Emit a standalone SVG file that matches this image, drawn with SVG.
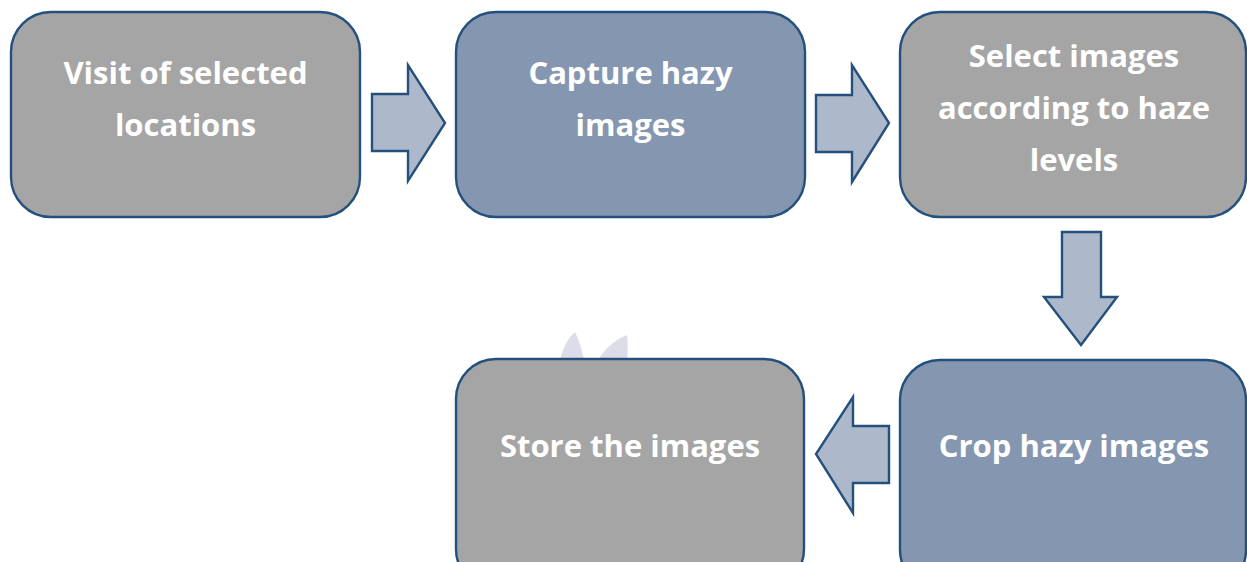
<svg xmlns="http://www.w3.org/2000/svg" width="1247" height="562" viewBox="0 0 1247 562">
<style>
.box{stroke:#24507E;stroke-width:2.4}
.gray{fill:#A5A5A5}
.blue{fill:#8496B0}
.arr{fill:#ADB9CA;stroke:#24507E;stroke-width:2.4;stroke-linejoin:miter}
.t{fill:#FFFFFF;font-family:"Open Sans","Liberation Sans",sans-serif;font-weight:700;font-size:31px;text-anchor:middle;font-variant-ligatures:none}
</style>
<rect width="1247" height="562" fill="#FFFFFF"/>
<g id="watermark" fill="#DCDDE9">
<path d="M560,360 C563,348 568,338 575,332 C579,340 582,350 584,360 Z"/>
<path d="M598,360 C604,350 614,340 627,335 C628,343 628,352 627,360 Z"/>
</g>
<g id="connectors">
<polygon class="arr" points="372,94 408,94 408,65 445,123 408,181 408,151 372,151"/>
<polygon class="arr" points="816,95 852,95 852,65 889,123 852,182 852,152 816,152"/>
<polygon class="arr" points="1062,232 1101,232 1101,297 1117,297 1081,345 1044,297 1062,297"/>
<polygon class="arr" points="889,426 853,426 853,397 816,454 853,513 853,483 889,483"/>
</g>
<g id="node1">
<rect class="box gray" x="11" y="12" width="349" height="205" rx="40"/>
<text class="t" x="185.5" y="84">Visit of selected</text>
<text class="t" x="185.5" y="136">locations</text>
</g>
<g id="node2">
<rect class="box blue" x="456" y="12" width="349" height="205" rx="40"/>
<text class="t" x="630.5" y="84">Capture hazy</text>
<text class="t" x="630.5" y="136">images</text>
</g>
<g id="node3">
<rect class="box gray" x="900" y="12" width="346" height="205" rx="40"/>
<text class="t" x="1074" y="67">Select images</text>
<text class="t" x="1074" y="119">according to haze</text>
<text class="t" x="1074" y="171">levels</text>
</g>
<g id="node4">
<rect class="box gray" x="456" y="359" width="348" height="230" rx="40"/>
<text class="t" x="630" y="457">Store the images</text>
</g>
<g id="node5">
<rect class="box blue" x="900" y="360" width="346" height="230" rx="40"/>
<text class="t" x="1074" y="457">Crop hazy images</text>
</g>
</svg>
